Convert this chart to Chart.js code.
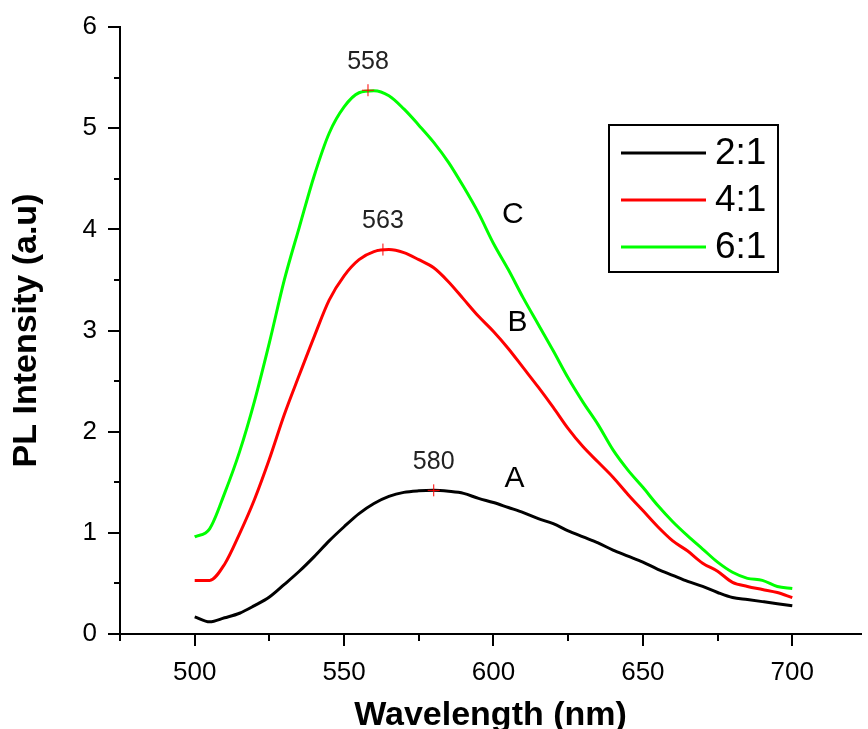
<!DOCTYPE html>
<html>
  <head>
    <title>PL Intensity vs Wavelength</title>
    <script src="https://cdn.jsdelivr.net/npm/chart.js@4.4.0/dist/chart.umd.min.js"></script>
    <style>
      body { margin: 0; background: #fff; }
    </style>
  </head>
  <body>
    <canvas id="myChart" width="868" height="729"></canvas>
    <script>
      // Emission spectra for three precursor ratios
      const wavelength = [500, 505, 510, 515, 520, 525, 530, 535, 540, 545,
                          550, 555, 560, 565, 570, 575, 580, 585, 590, 595,
                          600, 605, 610, 615, 620, 625, 630, 635, 640, 645,
                          650, 655, 660, 665, 670, 675, 680, 685, 690, 695, 700];
      const ratio21 = [0.17, 0.12, 0.16, 0.205, 0.28, 0.365, 0.49, 0.62, 0.765, 0.92,
                       1.06, 1.19, 1.29, 1.36, 1.40, 1.415, 1.42, 1.41, 1.39, 1.34,
                       1.30, 1.25, 1.20, 1.14, 1.09, 1.02, 0.96, 0.90, 0.83, 0.77,
                       0.71, 0.64, 0.58, 0.52, 0.47, 0.41, 0.36, 0.34, 0.32, 0.30, 0.28];
      const ratio41 = [0.53, 0.53, 0.69, 0.99, 1.33, 1.73, 2.17, 2.56, 2.94, 3.30,
                       3.54, 3.70, 3.78, 3.80, 3.77, 3.70, 3.62, 3.48, 3.31, 3.14,
                       2.99, 2.82, 2.63, 2.44, 2.24, 2.03, 1.85, 1.70, 1.55, 1.38,
                       1.22, 1.06, 0.92, 0.82, 0.70, 0.62, 0.51, 0.47, 0.44, 0.41, 0.36];
      const ratio61 = [0.96, 1.04, 1.39, 1.80, 2.30, 2.88, 3.50, 4.02, 4.53, 4.95,
                       5.21, 5.35, 5.37, 5.32, 5.19, 5.03, 4.86, 4.66, 4.42, 4.16,
                       3.86, 3.60, 3.32, 3.06, 2.80, 2.53, 2.29, 2.07, 1.82, 1.62,
                       1.45, 1.27, 1.11, 0.97, 0.84, 0.71, 0.61, 0.55, 0.53, 0.47, 0.45];
      const seriesNames = ['2:1', '4:1', '6:1'];
      const seriesColors = ['#000000', '#ff0000', '#00ff00'];

      // emission maxima, labelled with their wavelength
      const peakWavelength = [580, 563, 558];
      const peakIntensity = [1.42, 3.80, 5.375];

      // curve letters
      const curveTags = ['A', 'B', 'C'];
      const tagWavelength = [607, 608, 606.5];
      const tagIntensity = [1.53, 3.08, 4.14];

      const xTicks = [500, 550, 600, 650, 700];
      const yTicks = [0, 1, 2, 3, 4, 5, 6];

      const FONT = '"Liberation Sans", Arial, sans-serif';

      const toPoints = values => values.map((v, i) => ({ x: wavelength[i], y: v }));

      const extras = {
        id: 'extras',
        afterDraw(chart) {
          const ctx = chart.ctx;
          const xs = chart.scales.x;
          const ys = chart.scales.y;
          ctx.save();

          // tick marks: long on labelled values, short halfway between
          ctx.strokeStyle = '#000';
          ctx.lineWidth = 2;
          for (let v = xs.min; v <= xs.max; v += 25) {
            const px = Math.round(xs.getPixelForValue(v));
            const len = xTicks.includes(v) ? 12 : 7;
            ctx.beginPath();
            ctx.moveTo(px, xs.top);
            ctx.lineTo(px, xs.top + len);
            ctx.stroke();
          }
          for (let v = ys.min; v <= ys.max; v += 0.5) {
            const py = Math.round(ys.getPixelForValue(v));
            const len = yTicks.includes(v) ? 12 : 6;
            ctx.beginPath();
            ctx.moveTo(ys.right, py);
            ctx.lineTo(ys.right - len, py);
            ctx.stroke();
          }

          // peak wavelengths above the markers
          ctx.fillStyle = '#222';
          ctx.textAlign = 'center';
          ctx.textBaseline = 'middle';
          ctx.font = '25px ' + FONT;
          peakWavelength.forEach((w, i) => {
            ctx.fillText(String(w), xs.getPixelForValue(w), ys.getPixelForValue(peakIntensity[i]) - 28);
          });

          ctx.fillStyle = '#000';
          ctx.font = '30px ' + FONT;
          curveTags.forEach((t, i) => {
            ctx.fillText(t, xs.getPixelForValue(tagWavelength[i]), ys.getPixelForValue(tagIntensity[i]));
          });

          // boxed legend
          const bx = 609, by = 125, bw = 169, bh = 147;
          ctx.lineWidth = 2;
          ctx.strokeStyle = '#000';
          ctx.strokeRect(bx, by, bw, bh);
          ctx.font = '37px ' + FONT;
          ctx.textAlign = 'left';
          seriesNames.forEach((name, i) => {
            const ry = by + 28 + i * 47;
            ctx.strokeStyle = seriesColors[i];
            ctx.lineWidth = 3;
            ctx.beginPath();
            ctx.moveTo(bx + 12, ry);
            ctx.lineTo(bx + 97, ry);
            ctx.stroke();
            ctx.fillStyle = '#000';
            ctx.fillText(name, bx + 106, ry + 1);
          });

          ctx.restore();
        }
      };

      const lineSet = (i, values) => ({
        label: seriesNames[i],
        data: toPoints(values),
        borderColor: seriesColors[i],
        borderWidth: 3,
        pointRadius: 0,
        cubicInterpolationMode: 'monotone',
        fill: false
      });

      const ctx = document.getElementById('myChart').getContext('2d');
      const myChart = new Chart(ctx, {
        type: 'line',
        data: {
          datasets: [
            {
              type: 'scatter',
              label: 'peaks',
              data: peakWavelength.map((w, i) => ({ x: w, y: peakIntensity[i] })),
              pointStyle: 'cross',
              pointRadius: 6,
              borderColor: '#ff0000',
              borderWidth: 1,
              order: -1
            },
            lineSet(0, ratio21),
            lineSet(1, ratio41),
            lineSet(2, ratio61)
          ]
        },
        options: {
          responsive: false,
          animation: false,
          layout: { padding: { top: 27, right: -6, bottom: 0, left: 0 } },
          plugins: {
            legend: { display: false },
            tooltip: { enabled: false }
          },
          scales: {
            x: {
              type: 'linear',
              min: 475,
              max: 723,
              afterBuildTicks: s => { s.ticks = xTicks.map(v => ({ value: v })); },
              afterFit: s => {
                s.height = 95;
                s.paddingLeft = 0;
                s.paddingRight = 0;
              },
              grid: { display: false, drawTicks: false },
              border: { display: true, color: '#000', width: 2 },
              ticks: {
                color: '#000',
                padding: 23,
                maxRotation: 0,
                autoSkip: false,
                font: { family: FONT, size: 26 }
              },
              title: {
                display: true,
                text: 'Wavelength (nm)',
                color: '#000',
                font: { family: FONT, size: 34, weight: 'bold' },
                padding: { top: 0, bottom: -7 }
              }
            },
            y: {
              min: 0,
              max: 6,
              afterBuildTicks: s => { s.ticks = yTicks.map(v => ({ value: v })); },
              afterFit: s => {
                s.width = 120;
                s.paddingTop = 0;
                s.paddingBottom = 0;
              },
              grid: { display: false, drawTicks: false },
              border: { display: true, color: '#000', width: 2 },
              ticks: {
                color: '#000',
                padding: 23,
                font: { family: FONT, size: 26 }
              },
              title: {
                display: true,
                text: 'PL Intensity (a.u)',
                color: '#000',
                font: { family: FONT, size: 34, weight: 'bold' },
                padding: { top: 6, bottom: 0 }
              }
            }
          }
        },
        plugins: [extras]
      });
    </script>
  </body>
</html>
